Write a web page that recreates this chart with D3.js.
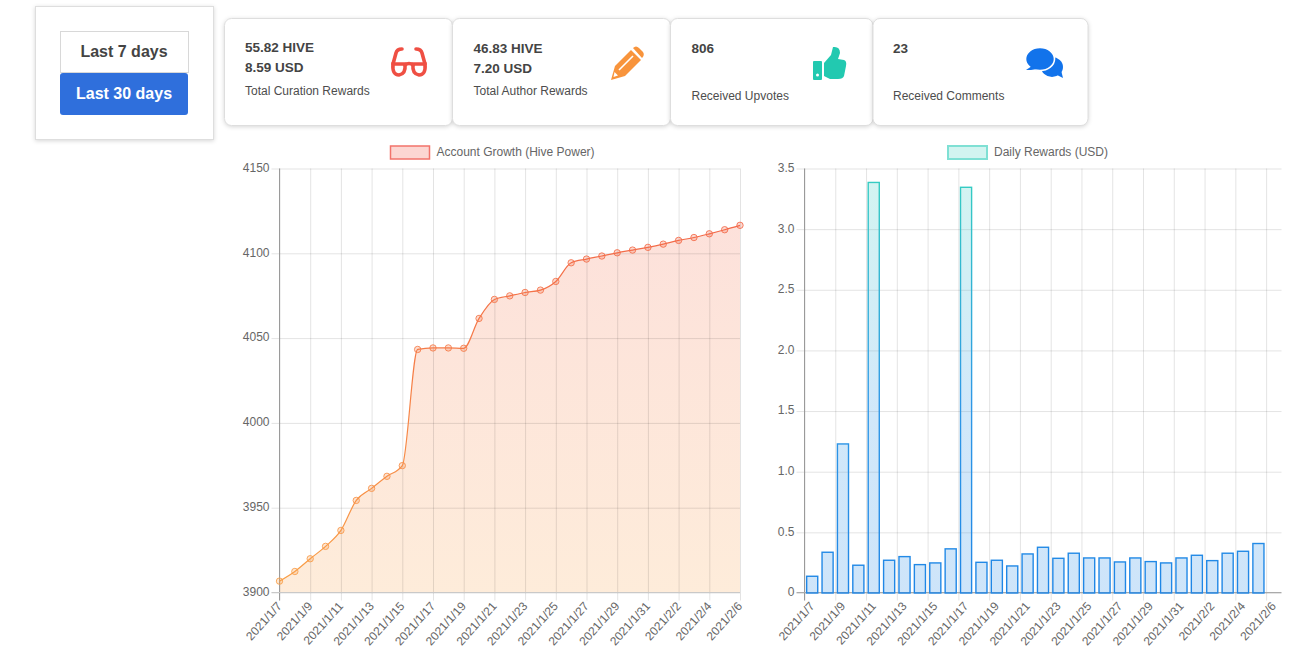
<!DOCTYPE html>
<html>
<head>
<meta charset="utf-8">
<title>Account stats</title>
<script src="https://cdn.jsdelivr.net/npm/d3@7"></script>
<style>
    html, body { margin: 0; padding: 0; background: #fff; overflow: hidden; }
    svg { display: block; font-family: "Liberation Sans", Arial, sans-serif; }
    .panel { fill: #fff; stroke: #dedede; filter: drop-shadow(0 1px 2px rgba(0, 0, 0, 0.16)); }
    .cardBig { font-size: 13.5px; font-weight: bold; fill: #444; }
    .cardSmall { font-size: 12px; fill: #4d4d4d; }
    .tickText { font-size: 12px; fill: #666; }
    .grid line { stroke: rgba(0, 0, 0, 0.11); }
    .grid path { stroke: none; }
</style>
</head>
<body>
<div id="page"></div>
<script>
// values
var dates = [
    "2021/1/7", "2021/1/8", "2021/1/9", "2021/1/10", "2021/1/11", "2021/1/12", "2021/1/13", "2021/1/14",
    "2021/1/15", "2021/1/16", "2021/1/17", "2021/1/18", "2021/1/19", "2021/1/20", "2021/1/21", "2021/1/22",
    "2021/1/23", "2021/1/24", "2021/1/25", "2021/1/26", "2021/1/27", "2021/1/28", "2021/1/29", "2021/1/30",
    "2021/1/31", "2021/2/1", "2021/2/2", "2021/2/3", "2021/2/4", "2021/2/5", "2021/2/6"
];
var growth = [
    3906.7, 3912.4, 3919.9, 3927.2, 3936.6, 3954.3, 3961.4, 3968.5, 3974.8, 4043.3, 4044.2, 4044.2, 4044.0,
    4061.6, 4072.8, 4074.9, 4076.9, 4078.3, 4083.4, 4094.4, 4096.6, 4098.4, 4100.3, 4101.9, 4103.5, 4105.4,
    4107.6, 4109.3, 4111.5, 4113.9, 4116.5
];
// no bar for the last date
var rewards = [
    0.138, 0.336, 1.229, 0.229, 3.385, 0.27, 0.30, 0.234, 0.248, 0.364, 3.345, 0.253, 0.27, 0.223, 0.322,
    0.377, 0.286, 0.328, 0.289, 0.289, 0.256, 0.289, 0.259, 0.248, 0.289, 0.311, 0.267, 0.328, 0.344, 0.408
];
var growthTicks = [3900, 3950, 4000, 4050, 4100, 4150];
var rewardTicks = [0, 0.5, 1, 1.5, 2, 2.5, 3, 3.5];
var rangeLabels = ["Last 7 days", "Last 30 days"];
var cardTop = ["55.82 HIVE", "46.83 HIVE", "806", "23"];
var cardSecond = ["8.59 USD", "7.20 USD", "", ""];
var cardNames = ["Total Curation Rewards", "Total Author Rewards", "Received Upvotes", "Received Comments"];

var width = 1304;
var height = 663;
var every2 = dates.filter(function(d, i) { return i % 2 === 0; });

var svg = d3.select("#page").append("svg").attr("width", width).attr("height", height);
var defs = svg.append("defs");

function addGradient(id, y1, y2, stops) {
    var g = defs.append("linearGradient").attr("id", id)
        .attr("gradientUnits", "userSpaceOnUse")
        .attr("x1", 0).attr("x2", 0).attr("y1", y1).attr("y2", y2);
    stops.forEach(function(s) {
        g.append("stop").attr("offset", s[0]).attr("stop-color", s[1]);
    });
}
var plotTop = 168.5;
var plotBottom = 592.5;
addGradient("lineGrad", plotTop, plotBottom, [[0, "#f2604a"], [1, "#f9a046"]]);
addGradient("barGrad", plotTop, plotBottom, [[0, "#35cfc0"], [0.55, "#2f98e6"], [1, "#1f86e6"]]);

// button box
svg.append("rect").attr("class", "panel").attr("x", 35.5).attr("y", 6.5).attr("width", 178).attr("height", 133);
svg.append("rect").attr("x", 60.5).attr("y", 31.5).attr("width", 128).attr("height", 41)
    .attr("fill", "#fff").attr("stroke", "#d8d8d8");
svg.append("rect").attr("x", 60).attr("y", 73).attr("width", 128).attr("height", 42).attr("rx", 3)
    .attr("fill", "#2f6fdc");
svg.selectAll("text.range").data(rangeLabels).enter().append("text")
    .attr("class", "range")
    .attr("x", 124)
    .attr("y", function(d, i) { return i === 0 ? 57 : 99; })
    .attr("text-anchor", "middle")
    .attr("font-size", "16px")
    .attr("font-weight", "bold")
    .attr("fill", function(d, i) { return i === 0 ? "#444" : "#fff"; })
    .text(function(d) { return d; });

// stat cards
var cardX = [224.5, 452.5, 670.5, 873];
var cardW = [228, 218, 202.5, 215];
var cardTextX = [245, 473.5, 691.5, 893];
cardTop.forEach(function(t, i) {
    svg.append("rect").attr("class", "panel").attr("x", cardX[i]).attr("y", 18.5)
        .attr("width", cardW[i]).attr("height", 107).attr("rx", 7);
    var off = i === 0 ? 0 : 1;
    svg.append("text").attr("class", "cardBig").attr("x", cardTextX[i]).attr("y", 51.5 + off).text(t);
    svg.append("text").attr("class", "cardBig").attr("x", cardTextX[i]).attr("y", 71.5 + off).text(cardSecond[i]);
    svg.append("text").attr("class", "cardSmall").attr("x", cardTextX[i])
        .attr("y", i < 2 ? 95 : 100).text(cardNames[i]);
});

// icons
var glasses = svg.append("g").attr("fill", "none").attr("stroke", "#ef4f43").attr("stroke-width", 3.6).attr("stroke-linecap", "round");
glasses.append("path").attr("d", "M393,64 L396,53 Q397,49 402,49");
glasses.append("path").attr("d", "M425,64 L422,53 Q421,49 416,49");
glasses.append("path").attr("d", "M393,64 L405,64 Q406,74 399,75 Q392,75 393,64 Z");
glasses.append("path").attr("d", "M413,64 L425,64 Q426,75 419,75 Q412,74 413,64 Z");
glasses.append("path").attr("d", "M405,65 Q409,62 413,65");

var pencil = svg.append("g");
pencil.append("path").attr("fill", "#f8943c").attr("d", "M611,80 L615,66 L631,50 L641,60 L625,76 Z");
pencil.append("path").attr("fill", "#f8943c").attr("d", "M633,48 Q636,45 639,48 L643,52 Q645,55 642,58 Z");
pencil.append("path").attr("stroke", "#fff").attr("stroke-width", 1.6).attr("d", "M619,70 L633,56");
pencil.append("path").attr("fill", "#fff").attr("d", "M614.5,72 L618,75.5 L613.5,77 Z");

var thumb = svg.append("g").attr("fill", "#22c9b0");
thumb.append("rect").attr("x", 813).attr("y", 61).attr("width", 9).attr("height", 19).attr("rx", 1);
thumb.append("circle").attr("cx", 817.5).attr("cy", 75).attr("r", 1.5).attr("fill", "#fff");
thumb.append("path").attr("d", "M824,63 L831,55 L833,47 Q840,46 840,53 L838,59 L844,60 Q847,61 846,66 L844,76 Q843,79 838,79 L830,79 L824,76 Z");

var chat = svg.append("g").attr("fill", "#1273eb");
chat.append("ellipse").attr("cx", 1052).attr("cy", 67).attr("rx", 11).attr("ry", 10);
chat.append("path").attr("d", "M1055,74 L1063,78 L1061,70 Z");
chat.append("ellipse").attr("cx", 1040).attr("cy", 59).attr("rx", 14.5).attr("ry", 11.5)
    .attr("stroke", "#fff").attr("stroke-width", 1.6);
chat.append("path").attr("d", "M1032,66 L1026,70 L1031,70 L1037,69 Z");

// legends
function legend(x, label, fill, stroke, sw) {
    svg.append("rect").attr("x", x).attr("y", 146).attr("width", 39).attr("height", 13)
        .attr("fill", fill).attr("stroke", stroke).attr("stroke-width", sw);
    svg.append("text").attr("class", "tickText").attr("x", x + 46).attr("y", 156).text(label);
}
legend(390.5, "Account Growth (Hive Power)", "#fcd6d2", "#f2736b", 1.5);
legend(948, "Daily Rewards (USD)", "#d2f4f0", "#7fe0d4", 2);

// axes, shared by both charts
function drawAxes(name, gridScale, labelX, yScale, yFormat, yTicks, x0, x1, axisColor) {
    svg.append("g").attr("class", "grid")
        .attr("transform", "translate(0," + plotBottom + ")")
        .call(d3.axisBottom(gridScale).tickValues(every2).tickSize(plotTop - plotBottom).tickFormat(""));
    // little tick marks under the plot
    svg.append("g").attr("class", "grid")
        .attr("transform", "translate(0," + plotBottom + ")")
        .call(d3.axisBottom(gridScale).tickValues(every2).tickSize(8).tickFormat(""));

    var yg = svg.append("g").attr("class", "grid")
        .attr("transform", "translate(" + x0 + ",0)")
        .call(d3.axisLeft(yScale).tickValues(yTicks).tickSize(8).tickFormat(yFormat));
    yg.selectAll("text").attr("class", "tickText").attr("x", -10).attr("dy", "0.24em");
    svg.append("g").attr("class", "grid")
        .attr("transform", "translate(" + x1 + ",0)")
        .call(d3.axisLeft(yScale).tickValues(yTicks).tickSize(x1 - x0).tickFormat(""));

    svg.selectAll("text." + name).data(every2).enter().append("text")
        .attr("class", "tickText " + name)
        .attr("text-anchor", "end")
        .attr("transform", function(d) {
            return "translate(" + (labelX(d) + 3) + "," + (plotBottom + 14) + ") rotate(-48)";
        })
        .text(function(d) { return d; });

    svg.append("line").attr("x1", x0).attr("x2", x0).attr("y1", plotTop).attr("y2", plotBottom + 8)
        .attr("stroke", "#9a9a9a");
    svg.append("line").attr("x1", x0 - 8).attr("x2", x1).attr("y1", plotBottom).attr("y2", plotBottom)
        .attr("stroke", axisColor);
}

// left chart
var x0Left = 279.5;
var x1Left = 740;
var xLine = d3.scalePoint().domain(dates).range([x0Left, x1Left]);
var yLine = d3.scaleLinear().domain([3900, 4150]).range([plotBottom, plotTop]);

var leftArea = d3.area()
    .x(function(d, i) { return xLine(dates[i]); })
    .y0(plotBottom)
    .y1(function(d) { return yLine(d); })
    .curve(d3.curveMonotoneX);
var leftLine = d3.line()
    .x(function(d, i) { return xLine(dates[i]); })
    .y(function(d) { return yLine(d); })
    .curve(d3.curveMonotoneX);

svg.append("path").attr("d", leftArea(growth)).attr("fill", "url(#lineGrad)").attr("fill-opacity", 0.2);
drawAxes("xLabLeft", xLine, xLine, yLine, function(d) { return d; }, growthTicks, x0Left, x1Left, "#c9c9c9");
svg.append("path").attr("d", leftLine(growth)).attr("fill", "none").attr("stroke", "url(#lineGrad)").attr("stroke-width", 1.2);
svg.selectAll("circle.pt").data(growth).enter().append("circle")
    .attr("class", "pt")
    .attr("cx", function(d, i) { return xLine(dates[i]); })
    .attr("cy", function(d) { return yLine(d); })
    .attr("r", 3.2)
    .attr("fill", "url(#lineGrad)")
    .attr("fill-opacity", 0.25)
    .attr("stroke", "url(#lineGrad)")
    .attr("stroke-opacity", 0.85);

// right chart
var x0Right = 804.5;
var x1Right = 1281.5;
var xBand = d3.scaleBand().domain(dates).range([x0Right, x1Right]).paddingInner(0.28).paddingOuter(0.14);
var step = xBand.step();
var xEdge = d3.scalePoint().domain(dates).range([x0Right, x0Right + step * 30]);
var xCenter = d3.scalePoint().domain(dates).range([x0Right + step / 2, x0Right + step * 30.5]);
var yBar = d3.scaleLinear().domain([0, 3.5]).range([plotBottom + 0.5, plotTop]);

drawAxes("xLabRight", xEdge, xCenter, yBar, function(d) { return d === 0 ? "0" : d.toFixed(1); }, rewardTicks, x0Right, x1Right, "#aaaaaa");

var barFill = svg.append("g");
rewards.forEach(function(v, i) {
    barFill.append("rect")
        .attr("x", xBand(dates[i]))
        .attr("y", yBar(v))
        .attr("width", xBand.bandwidth())
        .attr("height", yBar(0) - yBar(v))
        .attr("fill", "url(#barGrad)")
        .attr("fill-opacity", 0.22)
        .attr("stroke", "url(#barGrad)")
        .attr("stroke-width", 1.4);
});
</script>
</body>
</html>
